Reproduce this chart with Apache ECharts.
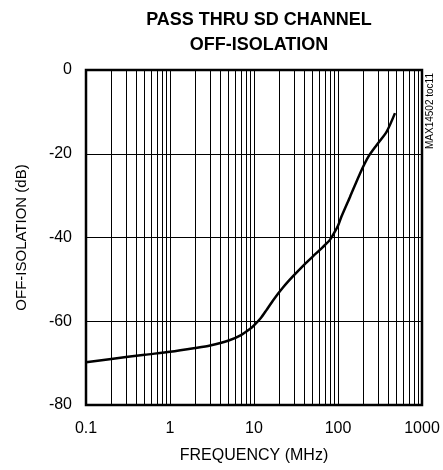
<!DOCTYPE html>
<html>
<head>
<meta charset="utf-8">
<script src="https://cdn.jsdelivr.net/npm/echarts@6/dist/echarts.min.js"></script>
<style>
  html, body { margin: 0; padding: 0; background: #fff; }
  #chart { width: 443px; height: 470px; }
</style>
</head>
<body>
<div id="chart"></div>
<script>
// frequency (MHz) and off-isolation (dB)
const freq = [0.1, 0.2, 0.5, 1, 2, 3, 5, 7, 9, 10, 12, 14, 17, 22, 29, 40, 51, 65, 80, 90, 100, 110, 139, 183, 230, 289, 380, 477]
const isolation = [-69.8, -69.0, -68.0, -67.3, -66.4, -65.8, -64.6, -63.3, -61.8, -61.0, -59.3, -57.4, -54.9, -52.0, -49.3, -46.4, -44.4, -42.4, -40.6, -38.9, -37.2, -35.0, -30.3, -24.7, -20.7, -17.9, -14.7, -10.3]
const xTicks = [0.1, 1, 10, 100, 1000]
const yTicks = [0, -20, -40, -60, -80]

const font = "'Liberation Sans', Arial, sans-serif"

// minor log grid lines at 2..9 of each decade
const minorLines = []
for (let d = 0.1; d < 1000; d *= 10) {
  for (let k = 2; k <= 9; k++) {
    minorLines.push({ xAxis: +(d * k).toPrecision(3) })
  }
}

const myChart = echarts.init(document.getElementById('chart'))
const option = {
  animation: false,
  title: {
    text: 'PASS THRU SD CHANNEL\nOFF-ISOLATION',
    left: 254,
    top: 3,
    textAlign: 'center',
    textStyle: { fontFamily: font, fontSize: 18, fontWeight: 'bold', color: '#000', lineHeight: 25 }
  },
  grid: {
    left: 86, right: 21, top: 70, bottom: 65,
    show: true, borderColor: '#000', borderWidth: 2.5
  },
  xAxis: {
    type: 'log',
    logBase: 10,
    min: 0.1,
    max: 1000,
    name: 'FREQUENCY (MHz)',
    nameLocation: 'middle',
    nameGap: 43,
    nameTextStyle: { fontFamily: font, fontSize: 16, color: '#000' },
    axisLine: { show: false },
    axisTick: { show: false },
    axisLabel: {
      fontFamily: font, fontSize: 16, color: '#000', margin: 16,
      formatter: v => xTicks.find(t => Math.abs(t - v) / t < 1e-6) + ''
    },
    splitLine: { show: true, lineStyle: { color: '#000', width: 1 } }
  },
  yAxis: {
    type: 'value',
    min: -80,
    max: 0,
    interval: 20,
    name: 'OFF-ISOLATION (dB)',
    nameLocation: 'middle',
    nameGap: 57,
    nameTextStyle: { fontFamily: font, fontSize: 15, color: '#000' },
    axisLine: { show: false },
    axisTick: { show: false },
    axisLabel: { fontFamily: font, fontSize: 16, color: '#000', margin: 14 },
    splitLine: { show: true, lineStyle: { color: '#000', width: 1 } }
  },
  graphic: [
    {
      type: 'text',
      x: 425,
      y: 149,
      rotation: Math.PI / 2,
      style: { text: 'MAX14502 toc11', fontFamily: font, fontSize: 10, fill: '#000' }
    }
  ],
  series: [
    {
      type: 'line',
      data: freq.map((f, i) => [f, isolation[i]]),
      smooth: 0.25,
      symbol: 'none',
      lineStyle: { color: '#000', width: 2.5 },
      markLine: {
        silent: true,
        symbol: 'none',
        label: { show: false },
        lineStyle: { color: '#000', width: 1, type: 'solid' },
        data: minorLines
      }
    }
  ]
}
myChart.setOption(option)
</script>
</body>
</html>
